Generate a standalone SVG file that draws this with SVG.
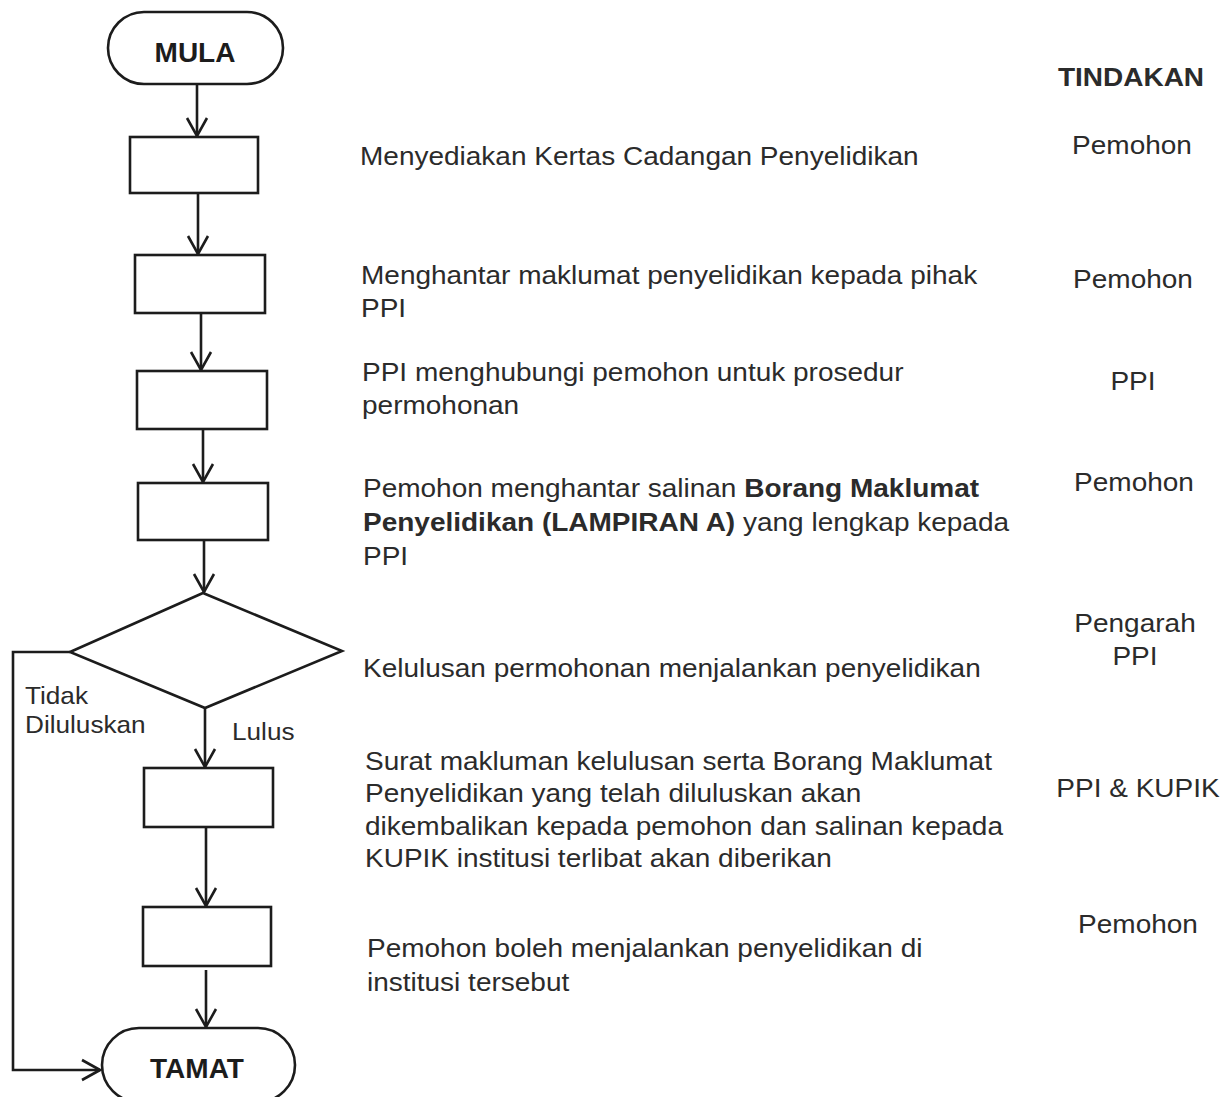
<svg xmlns="http://www.w3.org/2000/svg" width="1228" height="1097" viewBox="0 0 1228 1097">
<style>
.shape{fill:#fff;stroke:#1c1c1c;stroke-width:2.6}
.conn{fill:none;stroke:#1c1c1c;stroke-width:2.6}
.t{font-family:"Liberation Sans",Arial,sans-serif;font-size:25px;fill:#2b2b2b}
.lbl{font-family:"Liberation Sans",Arial,sans-serif;font-size:24px;fill:#2b2b2b}
.term{font-family:"Liberation Sans",Arial,sans-serif;font-size:28px;font-weight:bold;fill:#1c1c1c;text-anchor:middle}
.hd{font-family:"Liberation Sans",Arial,sans-serif;font-size:25px;font-weight:bold;fill:#2b2b2b;text-anchor:middle}
.c{text-anchor:middle}
.b{font-weight:bold}
</style>
<defs>
<marker id="arr" markerUnits="userSpaceOnUse" viewBox="-20 -12 22 24" refX="0" refY="0" markerWidth="22" markerHeight="24" orient="auto">
<path d="M-18,-10 L0,0 L-18,10" fill="none" stroke="#1c1c1c" stroke-width="2.6"/>
</marker>
</defs>
<rect width="1228" height="1097" fill="#fff"/>
<g id="connectors">
<path class="conn" d="M197,84 L197,136" marker-end="url(#arr)"/>
<path class="conn" d="M198,194 L198,254" marker-end="url(#arr)"/>
<path class="conn" d="M201,313 L201,370" marker-end="url(#arr)"/>
<path class="conn" d="M203,429 L203,482" marker-end="url(#arr)"/>
<path class="conn" d="M204,540 L204,592" marker-end="url(#arr)"/>
<path class="conn" d="M205,708 L205,767" marker-end="url(#arr)"/>
<path class="conn" d="M206,827 L206,906" marker-end="url(#arr)"/>
<path class="conn" d="M206,970 L206,1027" marker-end="url(#arr)"/>
<path class="conn" d="M70,652 L13,652 L13,1070 L100,1070" marker-end="url(#arr)"/>
</g>
<g id="mula">
<rect class="shape" x="108" y="12" width="175" height="72" rx="36"/>
<text class="term" x="195" y="62">MULA</text>
</g>
<g id="step1"><rect class="shape" x="130" y="137" width="128" height="56"/></g>
<g id="step2"><rect class="shape" x="135" y="255" width="130" height="58"/></g>
<g id="step3"><rect class="shape" x="137" y="371" width="130" height="58"/></g>
<g id="step4"><rect class="shape" x="138" y="483" width="130" height="57"/></g>
<g id="decision"><polygon class="shape" points="203,593 342,651 205,708 70,652"/></g>
<g id="step5"><rect class="shape" x="144" y="768" width="129" height="59"/></g>
<g id="step6"><rect class="shape" x="143" y="907" width="128" height="59"/></g>
<g id="tamat">
<rect class="shape" x="102" y="1028" width="193" height="74" rx="37"/>
<text class="term" x="197" y="1078">TAMAT</text>
</g>
<g id="labels">
<text class="lbl" transform="translate(25,704) scale(1.09,1)"><tspan x="0" y="0">Tidak</tspan><tspan x="0" y="29">Diluluskan</tspan></text>
<text class="lbl" transform="translate(232,740) scale(1.09,1)">Lulus</text>
</g>
<g id="descriptions">
<text class="t" transform="translate(360,165) scale(1.12,1)">Menyediakan Kertas Cadangan Penyelidikan</text>
<text class="t" transform="translate(361,284) scale(1.12,1)"><tspan x="0" y="0">Menghantar maklumat penyelidikan kepada pihak</tspan><tspan x="0" y="33">PPI</tspan></text>
<text class="t" transform="translate(362,381) scale(1.12,1)"><tspan x="0" y="0">PPI menghubungi pemohon untuk prosedur</tspan><tspan x="0" y="33">permohonan</tspan></text>
<text class="t" transform="translate(363,497) scale(1.12,1)"><tspan x="0" y="0">Pemohon menghantar salinan <tspan class="b">Borang Maklumat</tspan></tspan><tspan x="0" y="34"><tspan class="b">Penyelidikan (LAMPIRAN A)</tspan> yang lengkap kepada</tspan><tspan x="0" y="68">PPI</tspan></text>
<text class="t" transform="translate(363,677) scale(1.12,1)">Kelulusan permohonan menjalankan penyelidikan</text>
<text class="t" transform="translate(365,770) scale(1.12,1)"><tspan x="0" y="0">Surat makluman kelulusan serta Borang Maklumat</tspan><tspan x="0" y="32.5">Penyelidikan yang telah diluluskan akan</tspan><tspan x="0" y="65">dikembalikan kepada pemohon dan salinan kepada</tspan><tspan x="0" y="97.5">KUPIK institusi terlibat akan diberikan</tspan></text>
<text class="t" transform="translate(367,957) scale(1.12,1)"><tspan x="0" y="0">Pemohon boleh menjalankan penyelidikan di</tspan><tspan x="0" y="34">institusi tersebut</tspan></text>
</g>
<g id="tindakan">
<text class="hd" transform="translate(1131,86) scale(1.12,1)">TINDAKAN</text>
<text class="t c" transform="translate(1132,154) scale(1.12,1)">Pemohon</text>
<text class="t c" transform="translate(1133,288) scale(1.12,1)">Pemohon</text>
<text class="t c" transform="translate(1133,390) scale(1.12,1)">PPI</text>
<text class="t c" transform="translate(1134,491) scale(1.12,1)">Pemohon</text>
<text class="t c" transform="translate(1135,632) scale(1.12,1)"><tspan x="0" y="0">Pengarah</tspan><tspan x="0" y="33">PPI</tspan></text>
<text class="t c" transform="translate(1138,797) scale(1.12,1)">PPI &amp; KUPIK</text>
<text class="t c" transform="translate(1138,933) scale(1.12,1)">Pemohon</text>
</g>
</svg>
